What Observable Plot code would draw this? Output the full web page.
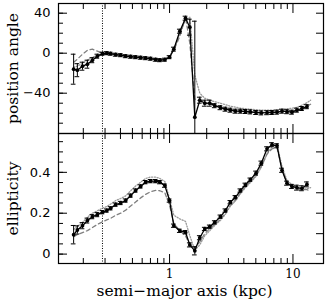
<!DOCTYPE html>
<html><head><meta charset="utf-8">
<script src="https://cdn.jsdelivr.net/npm/d3@7"></script>
<script src="https://cdn.jsdelivr.net/npm/@observablehq/plot@0.6"></script>
<style>
body{margin:0;background:#fff;}
#chart{position:relative;width:327px;height:305px;}
#chart svg{position:absolute;left:0;top:0;}
</style></head><body><div id="chart"></div>
<script>
// semi-major axis (kpc)
const sma = [0.167,0.179,0.197,0.216,0.237,0.260,0.286,0.310,0.333,0.366,0.402,0.441,0.484,0.531,0.583,0.640,0.702,0.771,0.835,0.916,1.0,1.083,1.211,1.347,1.459,1.602,1.758,1.929,2.117,2.324,2.584,2.836,3.112,3.417,3.750,4.116,4.517,5.022,5.542,6.164,6.765,7.425,8.149,8.944,9.815,10.77,11.83,12.98];
const smaModel = [0.167,0.179,0.197,0.216,0.237,0.260,0.286,0.310,0.333,0.366,0.402,0.441,0.484,0.531,0.583,0.640,0.702,0.771,0.835,0.916,1.0,1.083,1.211,1.347,1.459,1.602,1.758,1.929,2.117,2.324,2.584,2.836,3.112,3.417,3.750,4.116,4.517,5.022,5.542,6.164,6.765,7.425,8.149,8.944,9.815,10.77,11.83,12.98,13.9];

// position angle
const paObs = [-16,-17,-13,-11,-7,-3,-0.5,0,-0.5,-1.5,-2,-3,-3.5,-4,-4.5,-5,-5.5,-6.5,-7,-6.5,-4,4,22,35,26,-64,-47,-50,-50,-52.5,-54.5,-56,-57,-58,-58,-58.3,-58.7,-59.3,-59.7,-59.5,-59.3,-59,-58,-58.5,-59,-57,-55.3,-53.5];
const paErr = [15,6.5,4,4,2.5,2,1.5,1.5,1.5,1.5,1.5,1.5,1.5,1.5,1.5,1.5,1.5,1.5,1.5,1.5,1.5,2,2,2,8,96,3,3,3,2,2,2,2,2,2,2,2,2,2,2,2,2,2,2,2,2,2,2];
const paDashed = [-9,-6,-1,3,4,2,0,-0.5,-1,-1.5,-2.5,-3,-3.5,-4,-4.5,-5,-5.5,-6,-6.5,-6,-3,3,17,36,10,-46,-48,-50,-51,-52.5,-54,-55.5,-56.5,-57.5,-58,-58.5,-59,-59,-59.5,-59,-59,-58.5,-58,-58,-58,-56.5,-55,-53,-51];
const paDotted = [-14,-13,-10,-7,-4,-2,-0.5,-0.5,-1,-1.5,-2,-3,-3.5,-4,-4.5,-5,-5.5,-6.5,-7,-6.5,-4,4,20,33,36,-22,-40,-45,-47,-48.5,-50,-51.5,-53,-54,-55,-55.5,-56,-56.5,-57,-57,-57,-56.5,-56,-55.5,-55,-54,-52,-49.5,-47];

// ellipticity
const ellObs = [0.095,0.118,0.139,0.164,0.183,0.193,0.205,0.213,0.224,0.242,0.25,0.262,0.286,0.311,0.331,0.352,0.357,0.357,0.352,0.335,0.262,0.139,0.114,0.107,0.045,0.016,0.08,0.123,0.134,0.155,0.183,0.213,0.254,0.278,0.311,0.339,0.364,0.396,0.445,0.515,0.535,0.53,0.41,0.347,0.331,0.325,0.322,0.341];
const ellErr = [0.045,0.02,0.015,0.012,0.01,0.01,0.008,0.008,0.008,0.008,0.008,0.008,0.008,0.008,0.008,0.008,0.008,0.008,0.008,0.008,0.008,0.008,0.008,0.008,0.01,0.02,0.01,0.008,0.008,0.008,0.008,0.008,0.008,0.008,0.008,0.008,0.008,0.01,0.01,0.01,0.01,0.01,0.01,0.01,0.01,0.012,0.012,0.012];
const ellDashed = [0.085,0.095,0.105,0.115,0.13,0.145,0.158,0.167,0.175,0.19,0.2,0.215,0.235,0.255,0.275,0.292,0.305,0.312,0.31,0.3,0.24,0.15,0.115,0.09,0.045,0.03,0.06,0.1,0.125,0.145,0.17,0.2,0.24,0.265,0.3,0.33,0.355,0.385,0.43,0.49,0.515,0.52,0.42,0.345,0.33,0.32,0.315,0.315,0.31];
const ellDotted = [0.12,0.135,0.155,0.18,0.2,0.212,0.225,0.233,0.245,0.262,0.272,0.285,0.31,0.333,0.352,0.37,0.377,0.377,0.37,0.355,0.27,0.19,0.172,0.16,0.09,0.02,0.045,0.09,0.115,0.14,0.165,0.195,0.235,0.26,0.295,0.325,0.35,0.38,0.425,0.49,0.525,0.535,0.43,0.36,0.34,0.325,0.315,0.32,0.325];

// ticks
const xMajorTicks = [1, 10];
const xMinorTicks = [0.2,0.3,0.4,0.5,0.6,0.7,0.8,0.9,2,3,4,5,6,7,8,9];
const paLabelTicks = [-40, 0, 40];
const paMinorTicks = [-70,-60,-50,-40,-30,-20,-10,0,10,20,30,40];
const paRightTicks = [-60,-40,-20,0,20,40];
const ellLabelTicks = [0, 0.2, 0.4];
const ellMinorTicks = [0,0.05,0.1,0.15,0.2,0.25,0.3,0.35,0.4,0.45,0.5,0.55];
const ellRightTicks = [0,0.1,0.2,0.3,0.4,0.5];
const cutRadius = 0.286;

const xDomain = [0.1259, 17.68];
const W = 327;
const capF = 1.045;

const obsPA = sma.map((a, i) => ({a, v: paObs[i], lo: paObs[i] - paErr[i], hi: paObs[i] + paErr[i]}));
const obsEll = sma.map((a, i) => ({a, v: ellObs[i], lo: ellObs[i] - ellErr[i], hi: ellObs[i] + ellErr[i]}));
const modPA = smaModel.map((a, i) => ({a, d: paDashed[i], o: paDotted[i]}));
const modEll = smaModel.map((a, i) => ({a, d: ellDashed[i], o: ellDotted[i]}));

const blank = () => "";
function frameTicks(yLabelTicks, yMinor, yRight, yFmt) {
  return [
    Plot.axisX({anchor: "top", ticks: xMinorTicks, tickSize: -5, tickFormat: blank, label: null}),
    Plot.axisX({anchor: "top", ticks: xMajorTicks, tickSize: -9, tickFormat: blank, label: null}),
    Plot.axisX({anchor: "bottom", ticks: xMinorTicks, tickSize: -5, tickFormat: blank, label: null}),
    Plot.axisX({anchor: "bottom", ticks: xMajorTicks, tickSize: -9, tickFormat: blank, label: null}),
    Plot.axisY({anchor: "left", ticks: yMinor, tickSize: -5, tickFormat: blank, label: null}),
    Plot.axisY({anchor: "left", ticks: yLabelTicks, tickSize: -9, tickFormat: blank, label: null}),
    Plot.axisY({anchor: "right", ticks: yRight, tickSize: -8, tickFormat: blank, label: null}),
    Plot.axisY({anchor: "left", ticks: yLabelTicks, tickSize: 0, tickPadding: 8, tickFormat: yFmt, label: null,
      fontFamily: "DejaVu Sans", fontSize: 13})
  ];
}
function dataMarks(obs, mod) {
  return [
    Plot.ruleX([cutRadius], {stroke: "black", strokeWidth: 1, strokeDasharray: "1,1.5"}),
    Plot.line(mod, {x: "a", y: "o", stroke: "#9a9a9a", strokeWidth: 1.3, strokeDasharray: "1.2,1.6", clip: true}),
    Plot.line(mod, {x: "a", y: "d", stroke: "#808080", strokeWidth: 1.3, strokeDasharray: "4,3", clip: true}),
    Plot.ruleX(obs, {x: "a", y1: "lo", y2: "hi", stroke: "black", strokeWidth: 1, clip: true}),
    Plot.ruleY(obs, {y: "hi", x1: d => d.a / capF, x2: d => d.a * capF, stroke: "black", strokeWidth: 1, clip: true}),
    Plot.ruleY(obs, {y: "lo", x1: d => d.a / capF, x2: d => d.a * capF, stroke: "black", strokeWidth: 1, clip: true}),
    Plot.line(obs, {x: "a", y: "v", stroke: "black", strokeWidth: 1.3}),
    Plot.dot(obs, {x: "a", y: "v", r: 1.9, fill: "black", stroke: "none"})
  ];
}
const commonStyle = {background: "transparent", overflow: "visible", fontFamily: "DejaVu Serif", fontSize: "13px", color: "black"};

const topPlot = Plot.plot({
  width: W, height: 134, marginLeft: 58, marginRight: 4, marginTop: 3, marginBottom: 1,
  style: commonStyle,
  x: {type: "log", domain: xDomain},
  y: {domain: [-80.3, 49.7]},
  marks: [
    ...dataMarks(obsPA, modPA),
    ...frameTicks(paLabelTicks, paMinorTicks, paRightTicks, d => d < 0 ? "\u2212" + Math.abs(d) : String(d)),
    Plot.frame({stroke: "black", strokeWidth: 1.2}),
    Plot.text(["position angle"], {frameAnchor: "left", textAnchor: "middle", rotate: -90, dx: -45.5, text: d => d,
      fontFamily: "DejaVu Serif", fontSize: 15.5})
  ]
});

const botPlot = Plot.plot({
  width: W, height: 305, marginLeft: 58, marginRight: 4, marginTop: 133, marginBottom: 42,
  style: commonStyle,
  x: {type: "log", domain: xDomain},
  y: {domain: [-0.046, 0.59]},
  marks: [
    ...dataMarks(obsEll, modEll),
    ...frameTicks(ellLabelTicks, ellMinorTicks, ellRightTicks, d => d === 0 ? "0" : d.toFixed(1)),
    Plot.axisX({anchor: "bottom", ticks: xMajorTicks, tickSize: 0, tickPadding: 6, tickFormat: d => String(d), label: null,
      fontFamily: "DejaVu Serif", fontSize: 12}),
    Plot.frame({stroke: "black", strokeWidth: 1.2}),
    Plot.text(["ellipticity"], {frameAnchor: "left", textAnchor: "middle", rotate: -90, dx: -45.5, text: d => d,
      fontFamily: "DejaVu Serif", fontSize: 15.5}),
    Plot.text(["semi\u2212major axis (kpc)"], {frameAnchor: "bottom", dy: 32.5, dx: -6.5, text: d => d,
      fontFamily: "DejaVu Serif", fontSize: 15.5})
  ]
});

const chart = document.getElementById("chart");
chart.appendChild(topPlot);
chart.appendChild(botPlot);
</script></body></html>
